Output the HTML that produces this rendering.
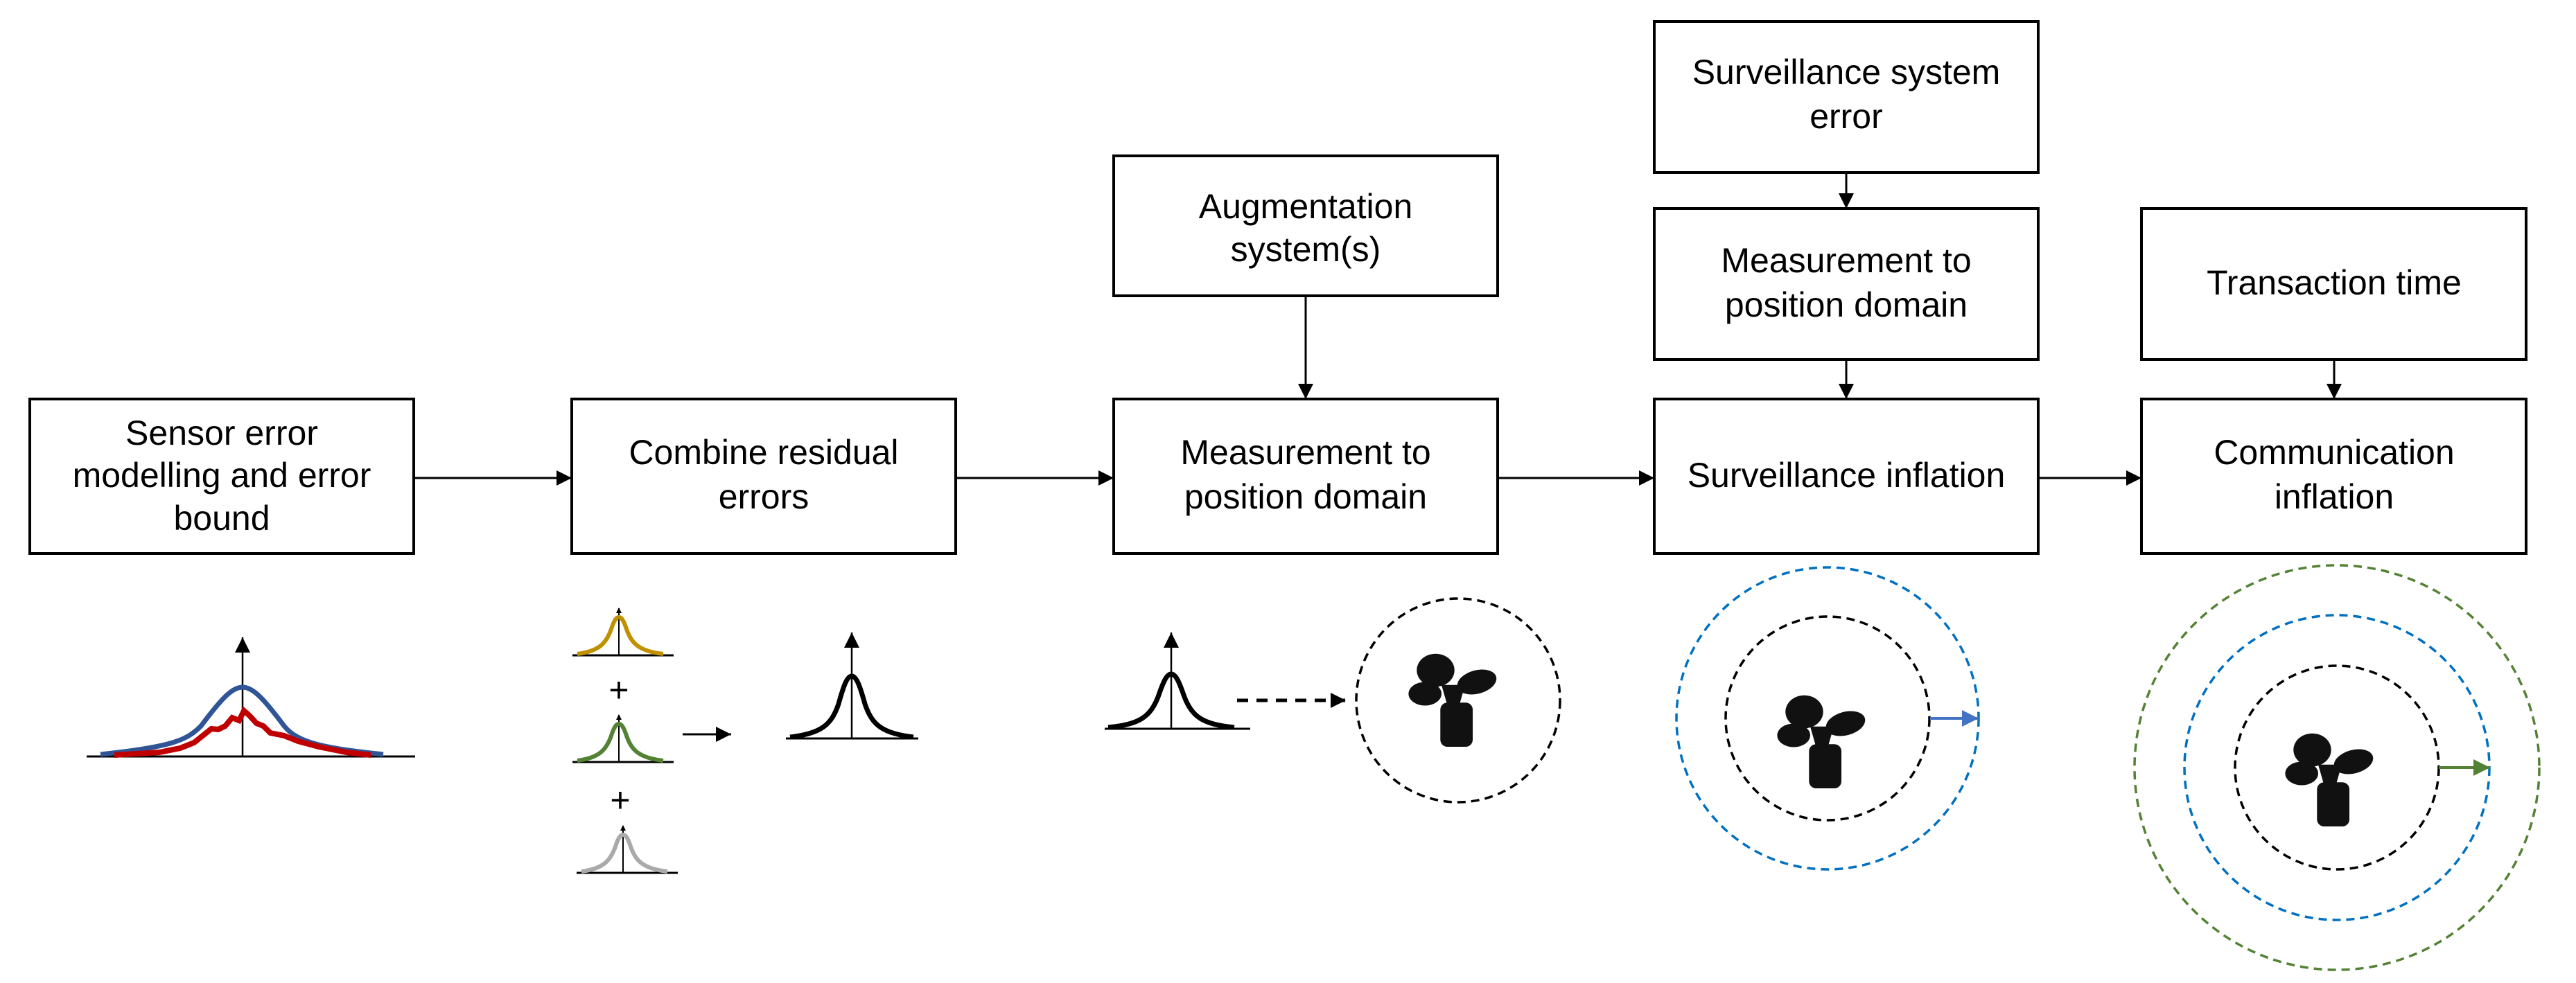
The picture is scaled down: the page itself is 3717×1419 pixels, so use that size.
<!DOCTYPE html>
<html><head><meta charset="utf-8"><style>
html,body{margin:0;padding:0;background:#fff;}
svg{display:block;}
text{font-family:"Liberation Sans",sans-serif;font-size:50px;fill:#000;text-anchor:middle;dominant-baseline:middle;}
</style></head><body>
<svg width="3717" height="1419" viewBox="0 0 3717 1419" xmlns="http://www.w3.org/2000/svg">
<defs>
<marker id="ah" markerWidth="8" markerHeight="8" refX="7" refY="4" orient="auto" markerUnits="userSpaceOnUse" viewBox="0 0 8 8"><path d="M0,0 L8,4 L0,8z" fill="#000"/></marker>
<marker id="a" viewBox="0 0 10 10" refX="10" refY="5" markerWidth="22" markerHeight="22" markerUnits="userSpaceOnUse" orient="auto"><path d="M0,0 L10,5 L0,10z" fill="#000"/></marker>
<marker id="ab" viewBox="0 0 10 10" refX="10" refY="5" markerWidth="24" markerHeight="24" markerUnits="userSpaceOnUse" orient="auto"><path d="M0,0 L10,5 L0,10z" fill="#4472c4"/></marker>
<marker id="ag" viewBox="0 0 10 10" refX="10" refY="5" markerWidth="24" markerHeight="24" markerUnits="userSpaceOnUse" orient="auto"><path d="M0,0 L10,5 L0,10z" fill="#548235"/></marker>
</defs>
<g fill="none" stroke="#000" stroke-width="4">
<rect x="43" y="576" width="554" height="223"/>
<rect x="825" y="576" width="554" height="223"/>
<rect x="1607" y="576" width="554" height="223"/>
<rect x="1607" y="225" width="554" height="202"/>
<rect x="2387" y="576" width="554" height="223"/>
<rect x="2387" y="301" width="554" height="218"/>
<rect x="2387" y="31" width="554" height="218"/>
<rect x="3090" y="576" width="555" height="223"/>
<rect x="3090" y="301" width="555" height="218"/>
</g>
<g stroke="#000" stroke-width="3" fill="none">
<line x1="597" y1="690" x2="825" y2="690" marker-end="url(#a)"/>
<line x1="1379" y1="690" x2="1607" y2="690" marker-end="url(#a)"/>
<line x1="2161" y1="690" x2="2387" y2="690" marker-end="url(#a)"/>
<line x1="2941" y1="690" x2="3090" y2="690" marker-end="url(#a)"/>
<line x1="1884" y1="427" x2="1884" y2="576" marker-end="url(#a)"/>
<line x1="2664" y1="249" x2="2664" y2="301" marker-end="url(#a)"/>
<line x1="2664" y1="519" x2="2664" y2="576" marker-end="url(#a)"/>
<line x1="3368" y1="519" x2="3368" y2="576" marker-end="url(#a)"/>
</g>
<text x="320" y="629">Sensor error</text>
<text x="320" y="690">modelling and error</text>
<text x="320" y="752">bound</text>
<text x="1102" y="657">Combine residual</text>
<text x="1102" y="721">errors</text>
<text x="1884" y="657">Measurement to</text>
<text x="1884" y="721">position domain</text>
<text x="1884" y="302">Augmentation</text>
<text x="1884" y="364">system(s)</text>
<text x="2664" y="690">Surveillance inflation</text>
<text x="2664" y="380">Measurement to</text>
<text x="2664" y="444">position domain</text>
<text x="2664" y="108">Surveillance system</text>
<text x="2664" y="172">error</text>
<text x="3368" y="657">Communication</text>
<text x="3368" y="721">inflation</text>
<text x="3368" y="412">Transaction time</text>

<g fill="none">
<line x1="125" y1="1092" x2="599" y2="1092" stroke="#000" stroke-width="3"/>
<line x1="350" y1="1092" x2="350" y2="920" stroke="#000" stroke-width="2.5" marker-end="url(#a)"/>
<path d="M145,1089 C250,1078 270,1068 290,1048 C320,1008 335,992 350,992 C365,992 380,1008 410,1048 C430,1073 470,1080 553,1089" stroke="#2f5597" stroke-width="7"/>
<polyline points="165,1090 230,1086 260,1080 280,1072 295,1060 305,1052 315,1053 325,1048 335,1036 345,1040 352,1026 360,1033 370,1044 380,1048 390,1058 410,1062 430,1070 460,1078 500,1086 535,1090" stroke="#c00000" stroke-width="8"/>
</g>

<g fill="none">
<line x1="826" y1="946" x2="972" y2="946" stroke="#000" stroke-width="3"/>
<line x1="893" y1="946" x2="893" y2="878" stroke="#000" stroke-width="2" marker-end="url(#ah)"/>
<path d="M833,944 C865,940 875,928 882,908 C886,896 889,891 893,891 C897,891 900,896 904,908 C911,928 921,940 957,944" stroke="#bf9000" stroke-width="6"/>
<text x="893" y="1000">+</text>
<line x1="826" y1="1100" x2="972" y2="1100" stroke="#000" stroke-width="3"/>
<line x1="893" y1="1100" x2="893" y2="1032" stroke="#000" stroke-width="2" marker-end="url(#ah)"/>
<path d="M833,1098 C865,1094 875,1082 882,1062 C886,1050 889,1045 893,1045 C897,1045 900,1050 904,1062 C911,1082 921,1094 957,1098" stroke="#548235" stroke-width="6"/>
<text x="895" y="1159">+</text>
<line x1="832" y1="1260" x2="978" y2="1260" stroke="#000" stroke-width="3"/>
<line x1="899" y1="1260" x2="899" y2="1192" stroke="#000" stroke-width="2" marker-end="url(#ah)"/>
<path d="M839,1258 C871,1254 881,1242 888,1222 C892,1210 895,1205 899,1205 C903,1205 906,1210 910,1222 C917,1242 927,1254 963,1258" stroke="#aaaaaa" stroke-width="6"/>
<line x1="985" y1="1060" x2="1055" y2="1060" stroke="#000" stroke-width="3" marker-end="url(#a)"/>
<line x1="1134" y1="1066" x2="1325" y2="1066" stroke="#000" stroke-width="3"/>
<line x1="1229" y1="1066" x2="1229" y2="913" stroke="#000" stroke-width="2.5" marker-end="url(#a)"/>
<path d="M1140,1064 C1185,1059 1200,1046 1210,1016 C1217,991 1222,976 1229,976 C1236,976 1241,991 1248,1016 C1258,1046 1273,1059 1318,1064" stroke="#000" stroke-width="7"/>
<line x1="1594" y1="1052" x2="1804" y2="1052" stroke="#000" stroke-width="3"/>
<line x1="1690" y1="1052" x2="1690" y2="913" stroke="#000" stroke-width="2.5" marker-end="url(#a)"/>
<path d="M1599,1050 C1645,1046 1660,1034 1671,1006 C1678,986 1683,973 1690,973 C1697,973 1702,986 1709,1006 C1720,1034 1735,1046 1781,1050" stroke="#000" stroke-width="7"/>
<line x1="1785" y1="1011" x2="1942" y2="1011" stroke="#000" stroke-width="5" stroke-dasharray="16,12" marker-end="url(#a)"/>
</g>

<g fill="none" stroke-width="3.5" stroke-dasharray="12,8">
<circle cx="2104" cy="1011" r="147" stroke="#000"/>
<circle cx="2637" cy="1037" r="147" stroke="#000"/>
<circle cx="2637" cy="1037" r="218" stroke="#0070c0"/>
<circle cx="3372" cy="1108" r="147" stroke="#000"/>
<circle cx="3372" cy="1108" r="220" stroke="#0070c0"/>
<circle cx="3372" cy="1108" r="292" stroke="#548235"/>
</g>
<line x1="2785" y1="1037" x2="2855" y2="1037" stroke="#4472c4" stroke-width="4" marker-end="url(#ab)"/>
<line x1="3519" y1="1108" x2="3593" y2="1108" stroke="#548235" stroke-width="4" marker-end="url(#ag)"/>

<g transform="translate(2080,1010) scale(0.85)" fill="#111">
<ellipse cx="-10" cy="-50" rx="32" ry="28"/>
<ellipse cx="60" cy="-30" rx="34" ry="20" transform="rotate(-15 60 -30)"/>
<ellipse cx="-28" cy="-10" rx="28" ry="20"/>
<path d="M0,-25 L40,-25 L30,10 L10,10z"/>
<rect x="-2" y="5" width="55" height="75" rx="12"/>
</g>
<g transform="translate(2612,1070) scale(0.85)" fill="#111">
<ellipse cx="-10" cy="-50" rx="32" ry="28"/>
<ellipse cx="60" cy="-30" rx="34" ry="20" transform="rotate(-15 60 -30)"/>
<ellipse cx="-28" cy="-10" rx="28" ry="20"/>
<path d="M0,-25 L40,-25 L30,10 L10,10z"/>
<rect x="-2" y="5" width="55" height="75" rx="12"/>
</g>
<g transform="translate(3345,1125) scale(0.85)" fill="#111">
<ellipse cx="-10" cy="-50" rx="32" ry="28"/>
<ellipse cx="60" cy="-30" rx="34" ry="20" transform="rotate(-15 60 -30)"/>
<ellipse cx="-28" cy="-10" rx="28" ry="20"/>
<path d="M0,-25 L40,-25 L30,10 L10,10z"/>
<rect x="-2" y="5" width="55" height="75" rx="12"/>
</g>
</svg>
</body></html>
